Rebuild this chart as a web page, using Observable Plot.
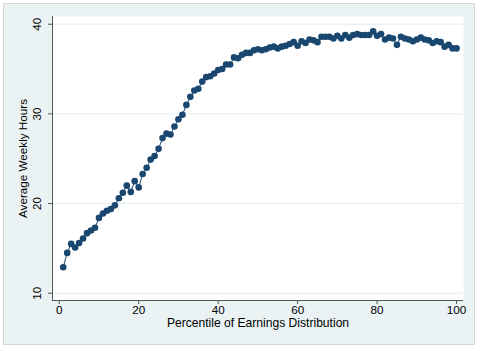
<!DOCTYPE html>
<html>
<head>
<meta charset="utf-8">
<script src="https://cdn.jsdelivr.net/npm/d3@7"></script>
<script src="https://cdn.jsdelivr.net/npm/@observablehq/plot@0.6"></script>
<style>
  html, body { margin: 0; padding: 0; background: #ffffff; }
  #wrap { position: relative; width: 480px; height: 351px; background: #ffffff; overflow: hidden; }
  #panel { position: absolute; left: 3px; top: 3px; width: 472px; height: 342px; border: 1px solid #d3d6d7; background: #eaf2f3; box-sizing: border-box; }
  #chart { position: absolute; left: 0; top: 0; }
  #chart svg { background: transparent !important; }
</style>
</head>
<body>
<div id="wrap"><div id="panel"></div><div id="chart"></div></div>
<script>
const percentiles = [1,2,3,4,5,6,7,8,9,10,11,12,13,14,15,16,17,18,19,20,
  21,22,23,24,25,26,27,28,29,30,31,32,33,34,35,36,37,38,39,40,
  41,42,43,44,45,46,47,48,49,50,51,52,53,54,55,56,57,58,59,60,
  61,62,63,64,65,66,67,68,69,70,71,72,73,74,75,76,77,78,79,80,
  81,82,83,84,85,86,87,88,89,90,91,92,93,94,95,96,97,98,99,100];
const hours = [12.9,14.5,15.5,15.1,15.6,16.1,16.7,17.0,17.3,18.4,
  18.9,19.2,19.4,19.8,20.6,21.2,22.0,21.3,22.5,21.8,
  23.3,24.0,24.9,25.3,26.1,27.3,27.8,27.7,28.6,29.4,
  29.9,31.0,31.9,32.6,32.8,33.6,34.1,34.2,34.5,34.9,
  35.0,35.5,35.5,36.3,36.2,36.6,36.8,36.8,37.1,37.2,
  37.1,37.2,37.4,37.5,37.3,37.5,37.6,37.8,38.0,37.6,
  38.1,37.9,38.3,38.2,38.0,38.6,38.6,38.6,38.4,38.7,
  38.4,38.8,38.5,38.8,38.9,38.8,38.8,38.8,39.2,38.7,
  38.9,38.3,38.5,38.4,37.7,38.6,38.4,38.3,38.1,38.3,
  38.5,38.3,38.2,37.9,38.1,38.0,37.5,37.7,37.3,37.3];
const xTicks = [0,20,40,60,80,100];
const yTicks = [10,20,30,40];
const xTitle = "Percentile of Earnings Distribution";
const yTitle = "Average Weekly Hours";

const data = percentiles.map((p, i) => ({p, h: hours[i]}));
const navy = "#1a476f";
const font = "'Liberation Sans', Arial, Helvetica, sans-serif";
const xMin = -1.7, xMax = 101.75, yMin = 9.19, yMax = 40.86;

const chart = Plot.plot({
  width: 480,
  height: 351,
  marginLeft: 52,
  marginRight: 17,
  marginTop: 16,
  marginBottom: 51,
  style: {fontFamily: font, fontSize: "11.5px", color: "#000", background: "transparent"},
  x: {domain: [xMin, xMax], axis: null},
  y: {domain: [yMin, yMax], axis: null},
  marks: [
    Plot.frame({fill: "#ffffff", stroke: null}),
    Plot.ruleY(yTicks, {y: d => d, x1: xMin, x2: xMax, stroke: "#e3edef", strokeWidth: 1}),
    Plot.ruleX([xMin], {x: d => d, y1: yMin, y2: yMax, stroke: "#555", strokeWidth: 1}),
    Plot.ruleY([yMin], {y: d => d, x1: xMin, x2: xMax, stroke: "#555", strokeWidth: 1}),
    Plot.ruleX(xTicks, {x: d => d, y1: yMin, y2: yMin - 0.45, stroke: "#555"}),
    Plot.text(xTicks, {x: d => d, frameAnchor: "bottom", dy: 13, text: d => String(d), fill: "#000", fontSize: 11.7}),
    Plot.ruleY(yTicks, {y: d => d, x1: xMin, x2: xMin - 1.0, stroke: "#555"}),
    Plot.text(yTicks, {y: d => d, frameAnchor: "left", dx: -15, rotate: -90, textAnchor: "middle", text: d => String(d), fill: "#000", fontSize: 11.7}),
    Plot.text([xTitle], {frameAnchor: "bottom", dy: 26, text: d => d, fill: "#000", fontSize: 12.1}),
    Plot.text([yTitle], {frameAnchor: "left", dx: -29, rotate: -90, textAnchor: "middle", text: d => d, fill: "#000", fontSize: 11.7}),
    Plot.line(data, {x: "p", y: "h", stroke: navy, strokeWidth: 1}),
    Plot.dot(data, {x: "p", y: "h", r: 3.3, fill: navy, stroke: null})
  ]
});
document.getElementById("chart").appendChild(chart);
</script>
</body>
</html>
